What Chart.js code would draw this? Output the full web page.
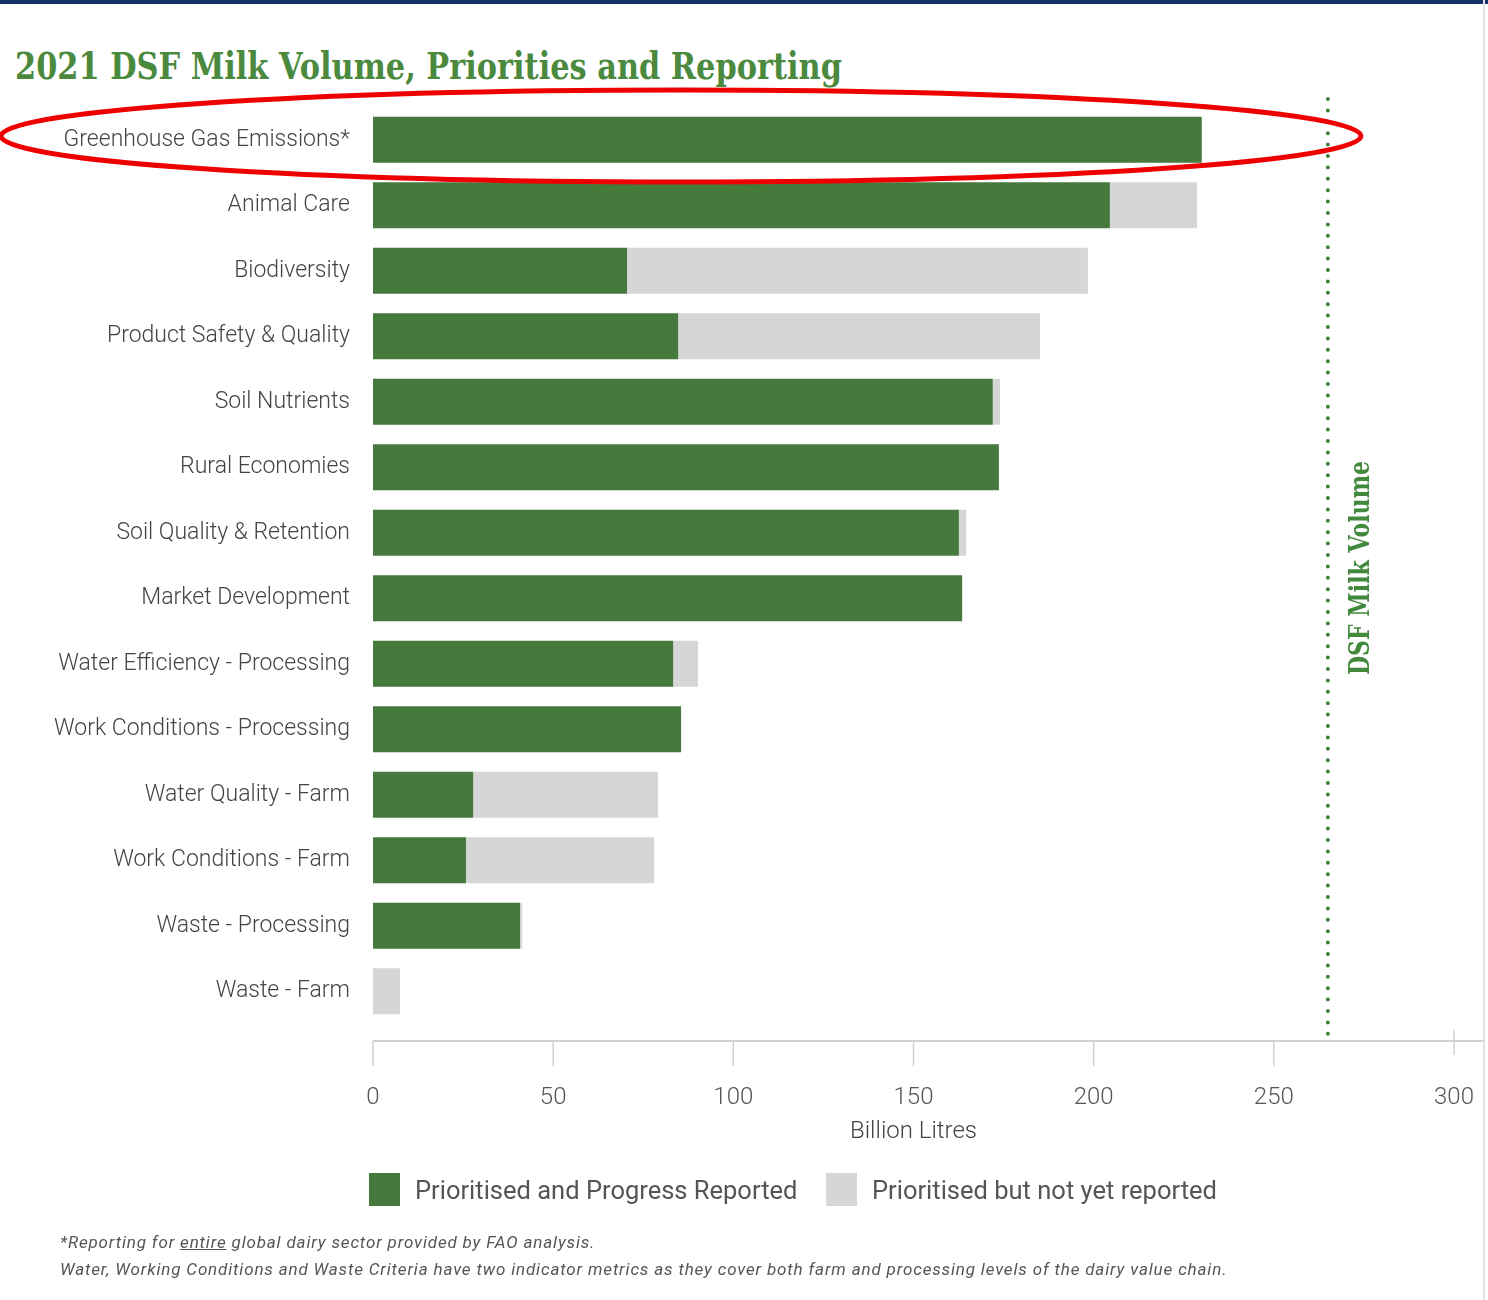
<!DOCTYPE html>
<html lang="en">
<head>
<meta charset="UTF-8">
<title>2021 DSF Milk Volume, Priorities and Reporting</title>
<script src="https://cdn.jsdelivr.net/npm/chart.js@4.4.0/dist/chart.umd.min.js"></script>
<style>
*{box-sizing:border-box;margin:0;padding:0}
body{background:#fff;width:1488px;height:1300px;overflow:hidden;font-family:Roboto,sans-serif;position:relative}
.topbar{position:absolute;left:0;top:0;width:1488px;height:4px;background:#13306a}
.rightbar{position:absolute;left:1483px;top:0;width:2px;height:1300px;background:#e2e2e2}
h1{position:absolute;left:15px;top:43px;font-family:"DejaVu Serif",serif;font-weight:700;font-size:38px;color:#4b8a3e;white-space:nowrap;transform-origin:left top;line-height:1.2}
.cw{position:absolute;left:0;top:0;width:1488px;height:1300px}
.leg{position:absolute;top:1173px;height:33px;display:flex;align-items:center;font-size:25.5px;color:#555;white-space:nowrap}
.leg i{display:inline-block;width:31px;height:33px;margin-right:15px}
.note{position:absolute;left:60px;font-size:17px;font-style:italic;color:#555;white-space:nowrap}
.note u{text-decoration:underline}
</style>
</head>
<body>
<div class="topbar"></div>
<div class="rightbar"></div>
<h1 id="title">2021 DSF Milk Volume, Priorities and Reporting</h1>
<div class="cw"><canvas id="chart"></canvas></div>
<div class="leg" style="left:369px"><i style="background:#467a3c"></i>Prioritised and Progress Reported</div>
<div class="leg" style="left:826px"><i style="background:#d6d6d6"></i>Prioritised but not yet reported</div>
<div class="note" id="n1" style="top:1232px">*Reporting for <u>entire</u> global dairy sector provided by FAO analysis.</div>
<div class="note" id="n2" style="top:1259px">Water, Working Conditions and Waste Criteria have two indicator metrics as they cover both farm and processing levels of the dairy value chain.</div>
<script>
const categories = [
  "Greenhouse Gas Emissions*", "Animal Care", "Biodiversity", "Product Safety & Quality",
  "Soil Nutrients", "Rural Economies", "Soil Quality & Retention", "Market Development",
  "Water Efficiency - Processing", "Work Conditions - Processing", "Water Quality - Farm",
  "Work Conditions - Farm", "Waste - Processing", "Waste - Farm"
];
const reported = [230, 204.5, 70.5, 84.7, 172, 173.7, 162.6, 163.5, 83.3, 85.5, 27.8, 25.8, 40.8, 0];
const notYetReported = [0, 24.2, 127.9, 100.4, 2, 0, 2, 0, 6.9, 0, 51.3, 52.2, 0.6, 7.5];
const xTicks = [0, 50, 100, 150, 200, 250, 300];
const milkVolume = 265;

const green = "#467a3c", grey = "#d6d6d6", textGrey = "#555";

// fit title / footnotes to the widths in the original
function fitScale(el, w) {
  el.style.transform = "scaleX(" + (w / el.scrollWidth) + ")";
}
function fitSpacing(el, w) {
  const n = el.textContent.length;
  el.style.letterSpacing = ((w - el.scrollWidth) / n) + "px";
}
fitScale(document.getElementById("title"), 827);
fitSpacing(document.getElementById("n1"), 535);
fitSpacing(document.getElementById("n2"), 1167);

const decorations = {
  id: "decorations",
  beforeDatasetsDraw(chart) {
    const { ctx, chartArea, scales: { x } } = chart;
    const y = chartArea.bottom + 17;
    ctx.save();
    ctx.strokeStyle = "#d2d2d2";
    ctx.lineWidth = 2;
    ctx.beginPath();
    ctx.moveTo(x.left, y);
    ctx.lineTo(1484, y);
    ctx.stroke();
    ctx.lineWidth = 1.5;
    xTicks.forEach(v => {
      const px = x.getPixelForValue(v);
      ctx.beginPath();
      if (v === x.max) { ctx.moveTo(px, y - 11); ctx.lineTo(px, y + 14); }
      else { ctx.moveTo(px, y); ctx.lineTo(px, y + 25); }
      ctx.stroke();
    });
    ctx.restore();
  },
  afterDatasetsDraw(chart) {
    const { ctx, scales: { x } } = chart;
    const px = x.getPixelForValue(milkVolume);
    ctx.save();
    // dotted milk volume line
    ctx.strokeStyle = "#3f803a";
    ctx.lineWidth = 4;
    ctx.lineCap = "round";
    ctx.setLineDash([0, 11.4]);
    ctx.beginPath();
    ctx.moveTo(px, 99);
    ctx.lineTo(px, 1036);
    ctx.stroke();
    ctx.setLineDash([]);
    // vertical label
    ctx.translate(px + 34, 568);
    ctx.rotate(-Math.PI / 2);
    ctx.font = "bold 27px 'DejaVu Serif'";
    const w = ctx.measureText("DSF Milk Volume").width;
    ctx.scale(214 / w, 1);
    ctx.fillStyle = "#43893d";
    ctx.textAlign = "center";
    ctx.textBaseline = "middle";
    ctx.fillText("DSF Milk Volume", 0, 0);
    ctx.restore();
    // red highlight ellipse
    ctx.save();
    ctx.strokeStyle = "#ee0000";
    ctx.lineWidth = 5;
    ctx.beginPath();
    ctx.ellipse(681, 136, 680, 46, 0, 0, Math.PI * 2);
    ctx.stroke();
    ctx.restore();
  }
};

new Chart(document.getElementById("chart"), {
  type: "bar",
  data: {
    labels: categories,
    datasets: [
      { label: "Prioritised and Progress Reported", data: reported, backgroundColor: green },
      { label: "Prioritised but not yet reported", data: notYetReported, backgroundColor: grey }
    ]
  },
  options: {
    indexAxis: "y",
    responsive: true, maintainAspectRatio: false,
    animation: false,
    barPercentage: 0.7, categoryPercentage: 1,
    layout: { padding: { left: 0, right: 34, top: 107, bottom: 150 } },
    plugins: { legend: { display: false }, tooltip: { enabled: false } },
    scales: {
      x: {
        stacked: true, min: 0, max: 300,
        afterBuildTicks: s => { s.ticks = xTicks.map(v => ({ value: v })); },
        afterFit: s => { s.height = 126; s.paddingLeft = 0; s.paddingRight = 0; },
        grid: { display: false, drawTicks: false },
        border: { display: false },
        ticks: { color: textGrey, font: { family: "Roboto", size: 24, weight: 300 }, padding: 60 },
        title: { display: true, text: "Billion Litres", color: "#444", font: { family: "Roboto", size: 24, weight: 300 }, padding: { top: 0, bottom: 4 } }
      },
      y: {
        stacked: true,
        afterFit: s => { s.width = 373; s.paddingTop = 0; s.paddingBottom = 0; },
        grid: { display: false, drawTicks: false },
        border: { display: false },
        ticks: { color: "#444", font: { family: "Roboto", size: 23, weight: 300 }, padding: 23 }
      }
    }
  },
  plugins: [decorations]
});
</script>
</body>
</html>
